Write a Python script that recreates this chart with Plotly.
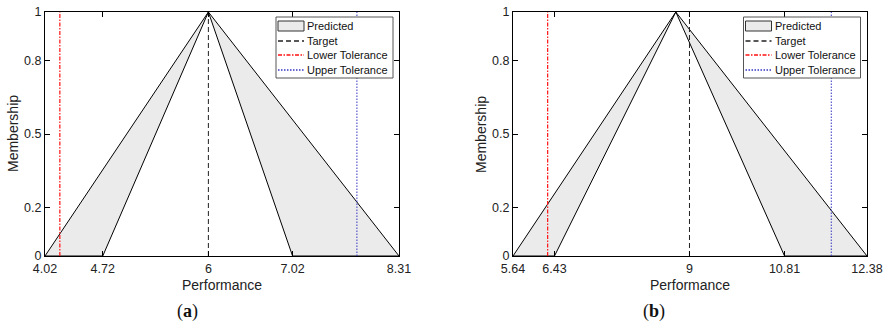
import plotly.graph_objects as go

# ---- data ----
a_outer = [4.02, 6.0, 8.31]
a_inner = [4.72, 6.0, 7.02]
a_target = 6.0
a_lower = 4.2
a_upper = 7.8
a_xticks = [4.02, 4.72, 6, 7.02, 8.31]
a_xticktext = ["4.02", "4.72", "6", "7.02", "8.31"]

b_outer = [5.64, 8.74, 12.38]
b_inner = [6.43, 8.74, 10.81]
b_target = 9.0
b_lower = 6.3
b_upper = 11.7
b_xticks = [5.64, 6.43, 9, 10.81, 12.38]
b_xticktext = ["5.64", "6.43", "9", "10.81", "12.38"]

y_ticks = [0, 0.2, 0.5, 0.8, 1]
y_ticktext = ["0", "0.2", "0.5", "0.8", "1"]

legend_names = ["Predicted", "Target", "Lower Tolerance", "Upper Tolerance"]

W, H = 888, 323
FONT = "Liberation Sans"

FILL = "#ebebeb"
TARGET_STYLE = dict(color="#222222", width=1, dash="5px,3px")
LOWER_STYLE = dict(color="#ff1010", width=1.2, dash="4px,1.5px,1.5px,1.5px")
UPPER_STYLE = dict(color="#3535c5", width=1, dash="1.5px,1.5px")

fig = go.Figure()


def add_panel(outer, inner, target, lower, upper, xa, ya):
    px = [outer[0], outer[1], outer[2], inner[2], inner[1], inner[0], outer[0]]
    py = [0, 1, 0, 0, 1, 0, 0]
    fig.add_trace(go.Scatter(x=px, y=py, mode="lines", fill="toself",
                             fillcolor=FILL, line=dict(color="black", width=1),
                             name=legend_names[0], xaxis=xa, yaxis=ya, showlegend=False))
    fig.add_trace(go.Scatter(x=[target, target], y=[0, 1], mode="lines", line=TARGET_STYLE,
                             name=legend_names[1], xaxis=xa, yaxis=ya, showlegend=False))
    fig.add_trace(go.Scatter(x=[lower, lower], y=[0, 1], mode="lines", line=LOWER_STYLE,
                             name=legend_names[2], xaxis=xa, yaxis=ya, showlegend=False))
    fig.add_trace(go.Scatter(x=[upper, upper], y=[0, 1], mode="lines", line=UPPER_STYLE,
                             name=legend_names[3], xaxis=xa, yaxis=ya, showlegend=False))


add_panel(a_outer, a_inner, a_target, a_lower, a_upper, "x", "y")
add_panel(b_outer, b_inner, b_target, b_lower, b_upper, "x2", "y2")

ydom = [1 - 256 / H, 1 - 12 / H]
axis_common = dict(showline=True, linecolor="black", linewidth=1, mirror="ticks",
                   ticks="inside", ticklen=5, tickcolor="black", showgrid=False,
                   zeroline=False, automargin=False,
                   tickfont=dict(family=FONT, size=12.5, color="#222"))

fig.update_layout(
    width=W, height=H, margin=dict(l=0, r=0, t=0, b=0),
    paper_bgcolor="white", plot_bgcolor="white",
    font=dict(family=FONT, color="#222"),
    showlegend=False,
    xaxis=dict(domain=[45 / W, 399 / W], range=[a_outer[0], a_outer[2]],
               tickvals=a_xticks, ticktext=a_xticktext, anchor="y",
               ticklabelstandoff=1, **axis_common),
    yaxis=dict(domain=ydom, range=[0, 1], tickvals=y_ticks, ticktext=y_ticktext,
               anchor="x", **axis_common),
    xaxis2=dict(domain=[513 / W, 867 / W], range=[b_outer[0], b_outer[2]],
                tickvals=b_xticks, ticktext=b_xticktext, anchor="y2",
                ticklabelstandoff=1, **axis_common),
    yaxis2=dict(domain=ydom, range=[0, 1], tickvals=y_ticks, ticktext=y_ticktext,
                anchor="x2", **axis_common),
)

annots = [
    dict(text="Performance", x=222 / W, y=1 - 285 / H),
    dict(text="Performance", x=690 / W, y=1 - 285 / H),
    dict(text="Membership", x=13 / W, y=1 - 134 / H, textangle=-90),
    dict(text="Membership", x=481 / W, y=1 - 134 / H, textangle=-90),
]
for a in annots:
    fig.add_annotation(xref="paper", yref="paper", xanchor="center", yanchor="middle",
                       showarrow=False, font=dict(family=FONT, size=14, color="#222"), **a)

for txt, xc in [("(<b>a</b>)", 187), ("(<b>b</b>)", 654)]:
    fig.add_annotation(text=txt, xref="paper", yref="paper", x=xc / W, y=1 - 311 / H,
                       xanchor="center", yanchor="middle", showarrow=False,
                       font=dict(family="Liberation Serif", size=18, color="#111"))


# ---- legends (boxed, top-right inside each panel) ----
def px2x(p):
    return p / W


def px2y(p):
    return 1 - p / H


def add_legend(left):
    top, bottom, width = 17, 78, 117
    fig.add_shape(type="rect", xref="paper", yref="paper",
                  x0=px2x(left), x1=px2x(left + width), y0=px2y(bottom), y1=px2y(top),
                  line=dict(color="#555", width=1), fillcolor="white", layer="above")
    rows = [26, 41, 55, 70]
    sx0, sx1 = left + 2, left + 28
    fig.add_shape(type="rect", xref="paper", yref="paper",
                  x0=px2x(sx0), x1=px2x(sx1), y0=px2y(rows[0] + 5), y1=px2y(rows[0] - 5),
                  line=dict(color="#333", width=1), fillcolor=FILL, layer="above")
    for style, ry in zip([TARGET_STYLE, LOWER_STYLE, UPPER_STYLE], rows[1:]):
        st = dict(style)
        st["width"] = 1.4
        fig.add_shape(type="line", xref="paper", yref="paper",
                      x0=px2x(sx0), x1=px2x(sx1), y0=px2y(ry), y1=px2y(ry),
                      line=st, layer="above")
    for name, ry in zip(legend_names, rows):
        fig.add_annotation(text=name, xref="paper", yref="paper", x=px2x(sx1 + 1),
                           y=px2y(ry), xanchor="left", yanchor="middle", showarrow=False,
                           font=dict(family=FONT, size=11, color="#111"))


add_legend(276)
add_legend(743.5)

fig.write_html("out.html")
